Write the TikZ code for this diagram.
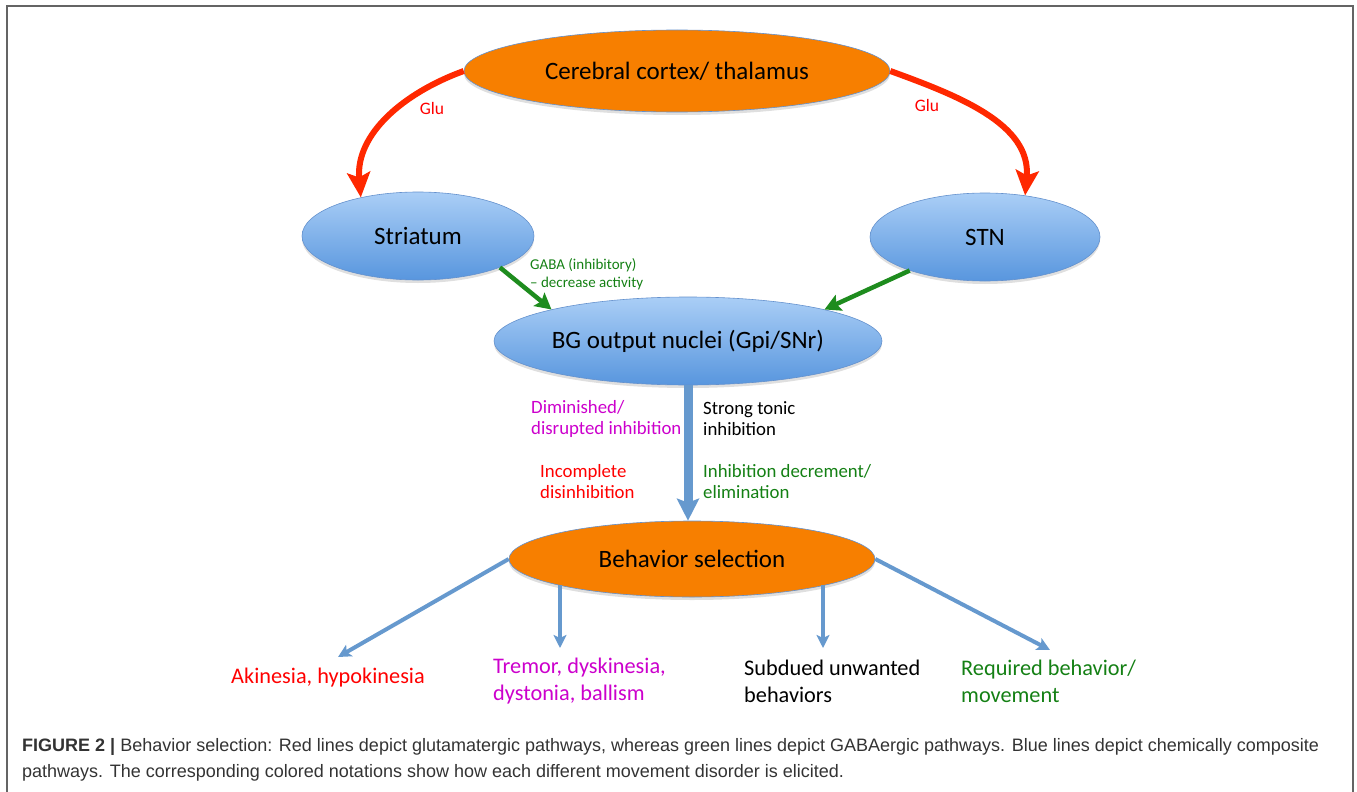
\documentclass[tikz,border=0pt]{standalone}
\usepackage{fontspec}
\setmainfont{Carlito}
\newfontfamily\capfont{Liberation Sans}
\usetikzlibrary{shapes.geometric,arrows.meta,shadows}

\definecolor{hotorange}{RGB}{247,127,0}
\definecolor{lightblue}{RGB}{170,206,246}
\definecolor{deepblue}{RGB}{88,150,222}
\definecolor{rimblue}{RGB}{100,145,205}
\definecolor{glured}{RGB}{255,40,0}
\definecolor{gabagreen}{RGB}{30,140,30}
\definecolor{mixblue}{RGB}{102,153,206}
\definecolor{txtred}{RGB}{255,0,0}
\definecolor{txtmagenta}{RGB}{204,0,204}
\definecolor{txtgreen}{RGB}{20,128,20}
\definecolor{framegray}{RGB}{100,100,100}

\begin{document}
\begin{tikzpicture}[x=1pt,y=-1pt]
    \useasboundingbox (0,0) rectangle (1357,792);
    \draw[framegray, line width=1.5pt] (7,792) -- (7,6) -- (1353,6) -- (1353,792);

    \tikzstyle{every node}=[ellipse, draw=rimblue, line width=0.6pt, inner sep=0pt, font=\fontsize{25}{29}\selectfont, text=black, drop shadow={shadow xshift=0pt, shadow yshift=-3pt, opacity=0.25}]
    \tikzstyle{nucleus}=[top color=lightblue, bottom color=deepblue]
    \tikzstyle{hub}=[fill=hotorange]

    \node[hub, minimum width=426pt, minimum height=82pt] (cortex) at (677,71) {Cerebral cortex/ thalamus};
    \node[nucleus, minimum width=232pt, minimum height=88pt] (striatum) at (418,236) {Striatum};
    \node[nucleus, minimum width=230pt, minimum height=88pt] (stn) at (985,237) {STN};
    \node[nucleus, minimum width=388pt, minimum height=88pt] (bgout) at (688,341) {BG output nuclei (Gpi/SNr)};
    \node[hub, minimum width=366pt, minimum height=76pt] (selection) at (692,559) {Behavior selection};

    \coordinate (akitip) at (338,657);
    \coordinate (tremtip) at (560,648);
    \coordinate (subtip) at (823,648);
    \coordinate (reqtip) at (1050,650);

    \tikzstyle{edge}=[glured, line width=6pt, -{Stealth[length=25pt, width=23pt, inset=5pt]}]
    \draw[edge] (cortex.west) to[out=200, in=95] (striatum.146);
    \draw[edge] (cortex.east) to[out=-20, in=85] (stn.46);

    \tikzstyle{edge}=[gabagreen, line width=4.5pt, -{Stealth[length=16pt, width=17pt, inset=3pt]}]
    \draw[edge] (striatum.-21) -- (bgout.167);
    \draw[edge] (stn.204) -- (bgout.13);

    \tikzstyle{edge}=[mixblue, line width=9pt, -{Stealth[length=22pt, width=22pt, inset=4pt]}]
    \draw[edge] (bgout.south) -- (bgout.south |- selection.north);

    \tikzstyle{edge}=[mixblue, line width=4pt, -{Stealth[length=13pt, width=13pt, inset=3pt]}]
    \draw[edge] (selection.west) -- (akitip);
    \draw[edge] (tremtip |- selection.191) -- (tremtip);
    \draw[edge] (subtip |- selection.349) -- (subtip);
    \draw[edge] (selection.east) -- (reqtip);

    \tikzstyle{every node}=[inner sep=0pt, align=left, anchor=west, font=\fontsize{18.8}{21}\selectfont]
    \node[txtred, anchor=center, font=\fontsize{17.5}{20}\selectfont] (gluleft) at (432,108) {Glu};
    \node[txtred, anchor=center, font=\fontsize{17.5}{20}\selectfont] (gluright) at (927,105) {Glu};
    \node[txtgreen, font=\fontsize{15}{18}\selectfont] (gaba) at (530,274) {GABA (inhibitory)\\-- decrease activity};
    \node[txtmagenta] (diminished) at (531,418.5) {Diminished/\\disrupted inhibition};
    \node[black] (tonic) at (703,418.5) {Strong tonic\\inhibition};
    \node[txtred] (incomplete) at (540,481.5) {Incomplete\\disinhibition};
    \node[txtgreen] (decrement) at (703,481.5) {Inhibition decrement/\\elimination};

    \tikzstyle{every node}=[inner sep=0pt, align=left, anchor=west, font=\fontsize{22.3}{27}\selectfont]
    \node[txtred, anchor=center] (akinesia) at (328,678) {Akinesia, hypokinesia};
    \node[txtmagenta] (tremor) at (493,681.5) {Tremor, dyskinesia,\\dystonia, ballism};
    \node[black] (subdued) at (744,681.5) {Subdued unwanted\\behaviors};
    \node[txtgreen] (required) at (961,681.5) {Required behavior/\\movement};

    \node[inner sep=0pt, align=left, anchor=west, text=black!80, font=\capfont\fontsize{18}{26}\selectfont] (caption) at (22,760) {\textbf{FIGURE 2 |} Behavior selection: Red lines depict glutamatergic pathways, whereas green lines depict GABAergic pathways. Blue lines depict chemically composite\\pathways. The corresponding colored notations show how each different movement disorder is elicited.};
\end{tikzpicture}
\end{document}
